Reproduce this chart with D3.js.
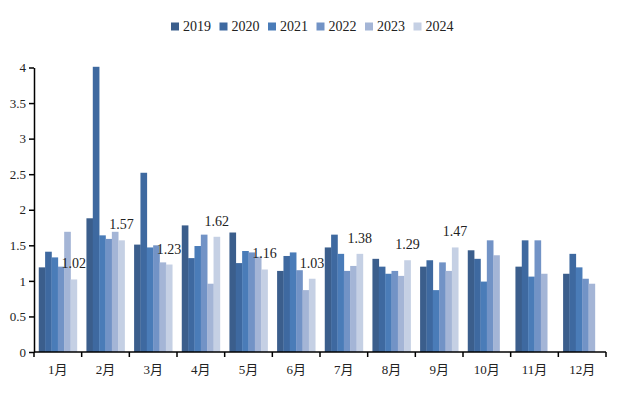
<!DOCTYPE html>
<html>
<head>
<meta charset="utf-8">
<script src="https://cdn.jsdelivr.net/npm/d3@7/dist/d3.min.js"></script>
<style>
  html, body { margin: 0; padding: 0; background: #fff; }
  svg { display: block; }
  text { font-family: "Liberation Serif", "Noto Sans CJK SC", serif; fill: #222; }
</style>
</head>
<body>
<script>
const months = ["1月","2月","3月","4月","5月","6月","7月","8月","9月","10月","11月","12月"];
const years = ["2019","2020","2021","2022","2023","2024"];
const v2019 = [1.19, 1.88, 1.51, 1.78, 1.68, 1.14, 1.47, 1.31, 1.20, 1.43, 1.20, 1.10];
const v2020 = [1.41, 4.01, 2.52, 1.32, 1.25, 1.35, 1.65, 1.20, 1.29, 1.31, 1.57, 1.38];
const v2021 = [1.33, 1.64, 1.47, 1.49, 1.42, 1.40, 1.38, 1.10, 0.87, 0.99, 1.06, 1.19];
const v2022 = [1.20, 1.59, 1.50, 1.65, 1.40, 1.15, 1.14, 1.14, 1.26, 1.57, 1.57, 1.03];
const v2023 = [1.69, 1.69, 1.26, 0.96, 1.34, 0.87, 1.21, 1.07, 1.14, 1.36, 1.10, 0.96];
const v2024 = [1.02, 1.57, 1.23, 1.62, 1.16, 1.03, 1.38, 1.29, 1.47, null, null, null];
const yTicks = [0, 0.5, 1, 1.5, 2, 2.5, 3, 3.5, 4];
const colors = ["#3b5e8c", "#3e69a0", "#4a7cb8", "#7293c6", "#a4b5d6", "#c5d0e4"];

const series = [v2019, v2020, v2021, v2022, v2023, v2024];

const W = 624, H = 394;
const svg = d3.select("body").append("svg").attr("width", W).attr("height", H);

const x = d3.scaleBand().domain(months).range([34, 606]).paddingInner(0.2).paddingOuter(0.1);
const xs = d3.scaleBand().domain(years).range([0, x.bandwidth()]).padding(0);
const y = d3.scaleLinear().domain([0, 4]).range([352, 67.5]);

// bars
months.forEach((m, i) => {
  const g = svg.append("g").attr("transform", `translate(${x(m)},0)`);
  years.forEach((yr, j) => {
    const v = series[j][i];
    if (v == null) return;
    g.append("rect")
      .attr("x", xs(yr))
      .attr("y", y(v))
      .attr("width", xs.bandwidth() + 0.3)
      .attr("height", y(0) - y(v))
      .attr("fill", colors[j]);
  });
});

// data labels for 2024
months.forEach((m, i) => {
  const v = v2024[i];
  if (v == null) return;
  svg.append("text")
    .attr("x", x(m) + xs("2024") + xs.bandwidth() / 2)
    .attr("y", y(v) - 11)
    .attr("text-anchor", "middle")
    .attr("font-size", 14)
    .text(v.toFixed(2));
});

// y axis
const yAxis = d3.axisLeft(y).tickValues(yTicks).tickSize(5).tickSizeOuter(0).tickPadding(3)
  .tickFormat(d => String(d));
const gy = svg.append("g").attr("transform", "translate(34,0)").call(yAxis);
gy.selectAll("path").attr("stroke", "#000").attr("stroke-width", 1.5);
gy.selectAll("line").attr("stroke", "#000").attr("stroke-width", 1.5);
gy.selectAll("text").attr("font-size", 13).attr("font-family", "Liberation Serif, serif").attr("fill", "#222");

// x axis
const gx = svg.append("g").attr("transform", `translate(0,${y(0)})`);
gx.append("line").attr("x1", 34).attr("x2", 606).attr("stroke", "#000").attr("stroke-width", 1.5);
const step = x.step();
const bounds = d3.range(months.length + 1).map(i => x(months[0]) - x.paddingOuter() * step + i * step);
gx.selectAll("line.tk").data(bounds).join("line").attr("class", "tk")
  .attr("x1", d => d).attr("x2", d => d).attr("y1", 0).attr("y2", 5)
  .attr("stroke", "#000").attr("stroke-width", 1.5);
gx.selectAll("text.lb").data(months).join("text").attr("class", "lb")
  .attr("x", d => x(d) + x.bandwidth() / 2)
  .attr("y", 22)
  .attr("text-anchor", "middle")
  .attr("font-size", 13)
  .text(d => d);

// legend
const legend = svg.append("g").attr("transform", "translate(171,22)");
years.forEach((yr, j) => {
  const g = legend.append("g").attr("transform", `translate(${j * 48.5},0)`);
  g.append("rect").attr("x", 0).attr("y", 0.5).attr("width", 8).attr("height", 8).attr("fill", colors[j]);
  g.append("text").attr("x", 12).attr("y", 9).attr("font-size", 14).text(yr);
});
</script>
</body>
</html>
